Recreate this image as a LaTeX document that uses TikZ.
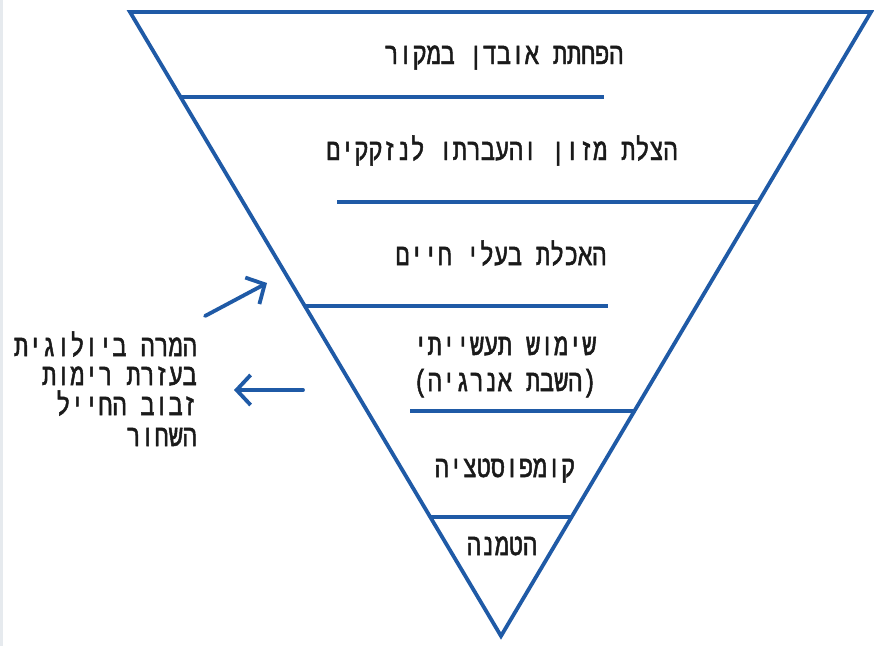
\documentclass[tikz,border=0pt]{standalone}
\usepackage{fontspec}
\newfontfamily\hebfont[Script=Hebrew, FakeStretch=0.77, FakeBold=1.6]{Liberation Mono}
\TeXXeTstate=1
\usetikzlibrary{arrows.meta}
\definecolor{pyrblue}{HTML}{1F5AA6}
\definecolor{stripgrey}{HTML}{E6EAEE}
\definecolor{inkgrey}{HTML}{1A1A1A}
\tikzset{
  edge/.style={draw=pyrblue, line width=3.8pt},
  levelline/.style={draw=pyrblue, line width=3.8pt},
  flow/.style={draw=pyrblue, line width=3.8pt, line cap=round,
    -{Straight Barb[length=14pt, width=30pt, line width=3.8pt]}},
  lab/.style={font=\hebfont\fontsize{30.4}{30}\selectfont, text=inkgrey, inner sep=0pt, anchor=base},
}
\begin{document}
\begin{tikzpicture}[x=1pt, y=-1pt]
\useasboundingbox (0,0) rectangle (874,646);
\fill[white] (0,0) rectangle (874,646);
\fill[stripgrey] (0,0) rectangle (3,646);
% triangle corners
\coordinate (tl) at (130,12);
\coordinate (tr) at (871,12);
\coordinate (apex) at (501,636);
\draw[edge, line join=miter] (tl) -- (tr) -- (apex) -- cycle;
% level lines
\coordinate (l1a) at (181,97);  \coordinate (l1b) at (604,97);
\coordinate (l2a) at (337,202); \coordinate (l2b) at (758,202);
\coordinate (l3a) at (305,306); \coordinate (l3b) at (608,306);
\coordinate (l4a) at (410,411); \coordinate (l4b) at (634,411);
\coordinate (l5a) at (430,517); \coordinate (l5b) at (572,517);
\draw[levelline] (l1a) -- (l1b);
\draw[levelline] (l2a) -- (l2b);
\draw[levelline] (l3a) -- (l3b);
\draw[levelline] (l4a) -- (l4b);
\draw[levelline] (l5a) -- (l5b);
% labels
\node[lab] (t1) at (504,64) {\beginR הפחתת אובדן במקור\endR};
\node[lab] (t2) at (502,160) {\beginR הצלת מזון והעברתו לנזקקים\endR};
\node[lab] (t3) at (501,265) {\beginR האכלת בעלי חיים\endR};
\node[lab] (t4a) at (505,355) {\beginR שימוש תעשייתי\endR};
\node[lab] (t4b) at (505,391) {)\beginR השבת אנרגיה\endR(};
\node[lab] (t5) at (505,477) {\beginR קומפוסטציה\endR};
\node[lab] (t6) at (502,555) {\beginR הטמנה\endR};
\node[lab, anchor=base east] (s1) at (197,356) {\beginR המרה ביולוגית\endR};
\node[lab, anchor=base east] (s2) at (197,385) {\beginR בעזרת רימות\endR};
\node[lab, anchor=base east] (s3) at (197,415) {\beginR זבוב החייל\endR};
\node[lab, anchor=base east] (s4) at (197,446) {\beginR השחור\endR};
% arrows
\coordinate (a1s) at (205,316); \coordinate (a1e) at (267,283);
\coordinate (a2s) at (303,390); \coordinate (a2e) at (234,390);
\draw[flow] (a1s) -- (a1e);
\draw[flow] (a2s) -- (a2e);
\end{tikzpicture}
\end{document}
